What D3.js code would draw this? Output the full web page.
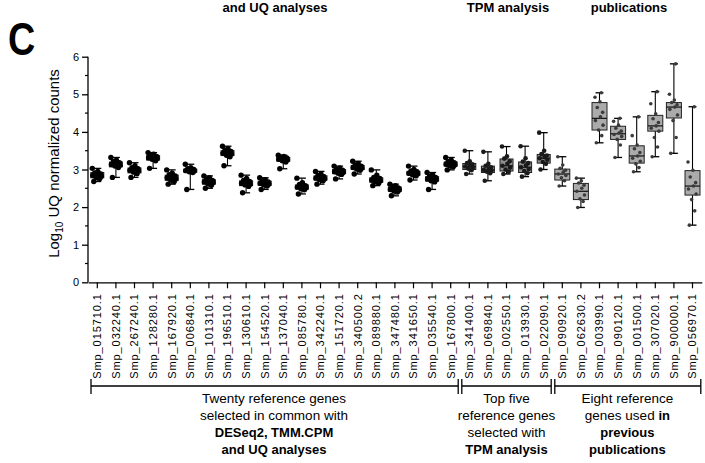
<!DOCTYPE html>
<html>
<head>
<meta charset="utf-8">
<script src="https://cdn.jsdelivr.net/npm/d3@7/dist/d3.min.js"></script>
<style>
  html, body { margin: 0; padding: 0; background: #fff; }
  svg { display: block; font-family: "Liberation Sans", Arial, sans-serif; }
</style>
</head>
<body>
<svg id="chart" width="705" height="463"></svg>
<script>
// Gene identifiers (x categories)
const genes = [
  "Smp_015710.1", "Smp_032240.1", "Smp_267240.1", "Smp_128280.1", "Smp_167920.1",
  "Smp_006840.1", "Smp_101310.1", "Smp_196510.1", "Smp_130610.1", "Smp_154520.1",
  "Smp_137040.1", "Smp_085780.1", "Smp_342240.1", "Smp_151720.1", "Smp_340500.2",
  "Smp_089880.1", "Smp_347480.1", "Smp_341650.1", "Smp_035540.1", "Smp_167800.1",
  "Smp_341400.1", "Smp_069840.1", "Smp_002550.1", "Smp_013930.1", "Smp_022090.1",
  "Smp_090920.1", "Smp_062630.2", "Smp_003990.1", "Smp_090120.1", "Smp_001500.1",
  "Smp_307020.1", "Smp_900000.1", "Smp_056970.1"
];

// Number of genes in each reference set (in order)
const groupSizes = [20, 5, 8];

// Box-plot summaries, log10 UQ normalized counts
const whiskerLow  = [2.68, 2.79, 2.79, 3.03, 2.61, 2.47, 2.50, 3.10, 2.38, 2.47, 3.02, 2.35, 2.61, 2.75, 2.88, 2.57, 2.30, 2.72, 2.47, 2.99,
                     2.88, 2.70, 2.88, 2.81, 3.00,
                     2.56, 1.99, 3.71, 3.32, 2.94, 3.34, 3.43, 1.52];
const quartile1   = [2.78, 3.07, 2.91, 3.25, 2.71, 2.93, 2.61, 3.37, 2.57, 2.58, 3.22, 2.48, 2.72, 2.89, 3.00, 2.66, 2.42, 2.85, 2.69, 3.09,
                     3.00, 2.92, 2.96, 2.92, 3.17,
                     2.72, 2.20, 4.05, 3.80, 3.17, 4.02, 4.37, 2.32];
const medians     = [2.84, 3.13, 2.98, 3.31, 2.78, 2.97, 2.67, 3.43, 2.63, 2.63, 3.27, 2.53, 2.77, 2.94, 3.05, 2.72, 2.47, 2.90, 2.75, 3.14,
                     3.08, 2.99, 3.10, 3.06, 3.30,
                     2.88, 2.42, 4.36, 3.95, 3.36, 4.16, 4.66, 2.56];
const quartile3   = [2.92, 3.20, 3.04, 3.37, 2.85, 3.01, 2.73, 3.50, 2.70, 2.69, 3.32, 2.59, 2.83, 3.00, 3.11, 2.78, 2.53, 2.95, 2.81, 3.20,
                     3.16, 3.09, 3.28, 3.20, 3.40,
                     3.01, 2.63, 4.78, 4.15, 3.63, 4.44, 4.78, 2.97];
const whiskerHigh = [3.03, 3.32, 3.18, 3.45, 2.99, 3.14, 2.83, 3.62, 2.85, 2.78, 3.38, 2.77, 2.95, 3.09, 3.22, 2.99, 2.61, 3.09, 2.92, 3.32,
                     3.50, 3.47, 3.61, 3.62, 3.98,
                     3.34, 2.77, 5.04, 4.36, 4.40, 5.07, 5.81, 4.67];

// Individual sample values per gene
const samples = [
  [2.68, 2.76, 2.79, 2.82, 2.84, 2.86, 2.88, 2.91, 2.95, 3.03],
  [2.79, 3.05, 3.09, 3.11, 3.13, 3.15, 3.18, 3.21, 3.25, 3.32],
  [2.79, 2.89, 2.93, 2.96, 2.98, 3.00, 3.02, 3.05, 3.10, 3.18],
  [3.03, 3.23, 3.27, 3.29, 3.31, 3.33, 3.35, 3.38, 3.41, 3.45],
  [2.61, 2.68, 2.72, 2.75, 2.78, 2.80, 2.83, 2.86, 2.90, 2.99],
  [2.47, 2.92, 2.94, 2.96, 2.97, 2.98, 3.00, 3.02, 3.05, 3.14],
  [2.50, 2.58, 2.62, 2.65, 2.67, 2.69, 2.71, 2.74, 2.78, 2.83],
  [3.10, 3.34, 3.38, 3.41, 3.43, 3.45, 3.48, 3.51, 3.55, 3.62],
  [2.38, 2.55, 2.59, 2.61, 2.63, 2.65, 2.68, 2.71, 2.76, 2.85],
  [2.47, 2.56, 2.59, 2.61, 2.63, 2.65, 2.67, 2.70, 2.73, 2.78],
  [3.02, 3.20, 3.23, 3.25, 3.27, 3.29, 3.31, 3.33, 3.35, 3.38],
  [2.35, 2.46, 2.49, 2.51, 2.53, 2.55, 2.57, 2.60, 2.65, 2.77],
  [2.61, 2.70, 2.73, 2.75, 2.77, 2.79, 2.81, 2.84, 2.88, 2.95],
  [2.75, 2.87, 2.90, 2.92, 2.94, 2.96, 2.98, 3.01, 3.04, 3.09],
  [2.88, 2.98, 3.01, 3.03, 3.05, 3.07, 3.09, 3.12, 3.16, 3.22],
  [2.57, 2.64, 2.67, 2.70, 2.72, 2.74, 2.76, 2.79, 2.85, 2.99],
  [2.30, 2.40, 2.43, 2.45, 2.47, 2.49, 2.51, 2.54, 2.57, 2.61],
  [2.72, 2.83, 2.86, 2.88, 2.90, 2.92, 2.94, 2.96, 3.00, 3.09],
  [2.47, 2.67, 2.70, 2.73, 2.75, 2.77, 2.79, 2.82, 2.86, 2.92],
  [2.99, 3.07, 3.10, 3.12, 3.14, 3.16, 3.18, 3.21, 3.25, 3.32],
  [2.88, 2.98, 3.02, 3.05, 3.08, 3.11, 3.14, 3.17, 3.22, 3.50],
  [2.70, 2.90, 2.94, 2.97, 2.99, 3.02, 3.06, 3.10, 3.15, 3.47],
  [2.88, 2.94, 3.00, 3.05, 3.10, 3.15, 3.22, 3.29, 3.35, 3.61],
  [2.81, 2.90, 2.96, 3.01, 3.06, 3.11, 3.17, 3.21, 3.30, 3.62],
  [3.00, 3.15, 3.20, 3.26, 3.30, 3.33, 3.37, 3.41, 3.50, 3.98],
  [2.56, 2.70, 2.78, 2.84, 2.88, 2.93, 2.98, 3.03, 3.12, 3.34],
  [1.99, 2.15, 2.22, 2.32, 2.42, 2.50, 2.58, 2.64, 2.70, 2.77],
  [3.71, 3.90, 4.05, 4.18, 4.30, 4.40, 4.52, 4.65, 4.80, 4.92, 5.04],
  [3.32, 3.65, 3.80, 3.88, 3.93, 3.97, 4.02, 4.10, 4.18, 4.28, 4.36],
  [2.94, 3.05, 3.15, 3.22, 3.30, 3.36, 3.45, 3.55, 3.65, 3.90, 4.40],
  [3.34, 3.60, 3.85, 4.02, 4.10, 4.16, 4.25, 4.35, 4.48, 4.75, 5.07],
  [3.43, 3.85, 4.30, 4.45, 4.60, 4.66, 4.72, 4.78, 4.85, 5.00, 5.81],
  [1.52, 1.90, 2.20, 2.35, 2.48, 2.56, 2.65, 2.80, 2.98, 3.20, 4.67]
];

// Y-axis ticks
const yTicks = [0, 1, 2, 3, 4, 5, 6];
const yMinorTicks = [0.5, 1.5, 2.5, 3.5, 4.5, 5.5];

// Caption lines under each reference set; each line is a list of [text, bold] runs
const groupCaptions = [
  [[["Twenty reference genes", false]], [["selected in common with", false]], [["DESeq2, TMM.CPM", true]], [["and UQ analyses", true]]],
  [[["Top five", false]], [["reference genes", false]], [["selected with", false]], [["TPM analysis", true]]],
  [[["Eight reference", false]], [["genes used ", false], ["in", true]], [["previous", true]], [["publications", true]]]
];

// Trailing caption text of the panel above
const headerTexts = ["and UQ analyses", "TPM analysis", "publications"];
const headerCenters = [275, 508, 629];

const svg = d3.select("#chart");

const x = d3.scaleBand().domain(genes).range([88, 701.8]).padding(0);
const y = d3.scaleLinear().domain([0, 6]).range([282.3, 56.7]);

// group index for each gene
const groupIndex = [];
groupSizes.forEach((n, g) => { for (let k = 0; k < n; k++) groupIndex.push(g); });

// Panel letter
svg.append("text")
  .attr("transform", "translate(8,55) scale(0.82,1)")
  .attr("font-size", 46).attr("font-weight", "bold")
  .text("C");

// Header line (tail of the previous panel's captions)
svg.selectAll("text.header").data(headerTexts).join("text")
  .attr("class", "header")
  .attr("x", (d, i) => headerCenters[i]).attr("y", 12)
  .attr("text-anchor", "middle").attr("font-size", 13).attr("font-weight", "bold")
  .text(d => d);

// Y axis
const yAxis = svg.append("g").attr("transform", "translate(88,0)")
  .call(d3.axisLeft(y).tickValues(yTicks).tickFormat(d3.format("d")).tickSize(6).tickPadding(3));
yAxis.select(".domain").attr("stroke-width", 1.3).attr("d", `M0,${y(6)}H0V${y(0)}`);
yAxis.selectAll(".tick line").attr("stroke-width", 1.3);
yAxis.selectAll(".tick text").attr("font-size", 11).attr("font-family", "Liberation Sans, Arial, sans-serif");
svg.append("g").selectAll("line").data(yMinorTicks).join("line")
  .attr("x1", 85).attr("x2", 88).attr("y1", d => y(d)).attr("y2", d => y(d))
  .attr("stroke", "#000").attr("stroke-width", 1.2);

// Y-axis title
const yTitle = svg.append("text")
  .attr("transform", `translate(59,${(y(0) + y(6)) / 2 - 6}) rotate(-90)`)
  .attr("text-anchor", "middle").attr("font-size", 15);
yTitle.append("tspan").text("Log");
yTitle.append("tspan").attr("font-size", 10).attr("dy", 4).text("10");
yTitle.append("tspan").attr("dy", -4).text(" UQ normalized counts");

// X axis
const xAxis = svg.append("g").attr("transform", `translate(0,${y(0)})`)
  .call(d3.axisBottom(x).tickSize(6).tickSizeOuter(0).tickPadding(3));
xAxis.select(".domain").attr("stroke-width", 1.3);
xAxis.selectAll(".tick line").attr("stroke-width", 1.2);
xAxis.selectAll(".tick text")
  .attr("font-size", 11).attr("letter-spacing", 0.9)
  .attr("font-family", "Liberation Sans, Arial, sans-serif")
  .attr("text-anchor", "end")
  .attr("transform", "rotate(-90)")
  .attr("x", -11).attr("y", 0).attr("dy", "0.35em");

// Box plots
const boxW = [13, 13, 15], capW = 8;
const jitter = [-3.5, 2.5, -1, 4, -4.5, 1, 3.5, -2.5, 0.5, -5, 2];
const boxFill = ["#8a8a8a", "#8f8f8f", "#ababab"];
const dotFill = ["#000", "#1a1a1a", "#3a3a3a"];
const dotR = [2.7, 2.3, 1.8];

const boxes = svg.append("g").selectAll("g").data(genes).join("g")
  .attr("transform", d => `translate(${x(d) + x.bandwidth() / 2},0)`);

boxes.append("line")
  .attr("y1", (d, i) => y(whiskerLow[i])).attr("y2", (d, i) => y(whiskerHigh[i]))
  .attr("stroke", "#000").attr("stroke-width", 1.1);
boxes.append("line")
  .attr("x1", -capW / 2).attr("x2", capW / 2)
  .attr("y1", (d, i) => y(whiskerHigh[i])).attr("y2", (d, i) => y(whiskerHigh[i]))
  .attr("stroke", "#000").attr("stroke-width", 1.3);
boxes.append("line")
  .attr("x1", -capW / 2).attr("x2", capW / 2)
  .attr("y1", (d, i) => y(whiskerLow[i])).attr("y2", (d, i) => y(whiskerLow[i]))
  .attr("stroke", "#000").attr("stroke-width", 1.3);
boxes.append("rect")
  .attr("x", (d, i) => -boxW[groupIndex[i]] / 2).attr("width", (d, i) => boxW[groupIndex[i]])
  .attr("y", (d, i) => y(quartile3[i]))
  .attr("height", (d, i) => y(quartile1[i]) - y(quartile3[i]))
  .attr("fill", (d, i) => boxFill[groupIndex[i]])
  .attr("stroke", "#222").attr("stroke-width", 1);
boxes.append("line")
  .attr("x1", (d, i) => -boxW[groupIndex[i]] / 2).attr("x2", (d, i) => boxW[groupIndex[i]] / 2)
  .attr("y1", (d, i) => y(medians[i])).attr("y2", (d, i) => y(medians[i]))
  .attr("stroke", "#111").attr("stroke-width", 1.2);
boxes.each(function(d, i) {
  const g = groupIndex[i];
  d3.select(this).selectAll("circle").data(samples[i]).join("circle")
    .attr("cx", (v, k) => jitter[k % jitter.length] * (g === 0 ? 1 : 0.9))
    .attr("cy", v => y(v))
    .attr("r", dotR[g])
    .attr("fill", dotFill[g]);
});

// Brackets beneath the gene labels
const bracketY = 386;
const bounds = [];
let start = 0;
groupSizes.forEach(n => { bounds.push([start, start + n - 1]); start += n; });
const bracket = svg.append("g").attr("stroke", "#000").attr("stroke-width", 1.3).attr("fill", "none");
bounds.forEach(([a, b], g) => {
  const x0 = g === 0 ? x(genes[a]) + 3 : x(genes[a]) + 1.8;
  const x1 = g === bounds.length - 1 ? x(genes[b]) + x.bandwidth() - 1 : x(genes[b]) + x.bandwidth() - 1.8;
  bracket.append("line").attr("x1", x0).attr("x2", x1).attr("y1", bracketY).attr("y2", bracketY);
  bracket.append("line").attr("x1", x0).attr("x2", x0).attr("y1", bracketY - 7).attr("y2", bracketY + 8);
  bracket.append("line").attr("x1", x1).attr("x2", x1).attr("y1", bracketY - 7).attr("y2", bracketY + 8);
});

// Captions
const captionCenters = bounds.map(([a, b]) => (x(genes[a]) + x(genes[b]) + x.bandwidth()) / 2);
groupCaptions.forEach((lines, g) => {
  lines.forEach((runs, li) => {
    const t = svg.append("text")
      .attr("x", captionCenters[g]).attr("y", 403 + li * 17)
      .attr("text-anchor", "middle");
    runs.forEach(([txt, bold]) => {
      t.append("tspan").attr("font-weight", bold ? "bold" : "normal")
        .attr("font-size", bold ? 13 : 13.5).text(txt);
    });
  });
});
</script>
</body>
</html>
